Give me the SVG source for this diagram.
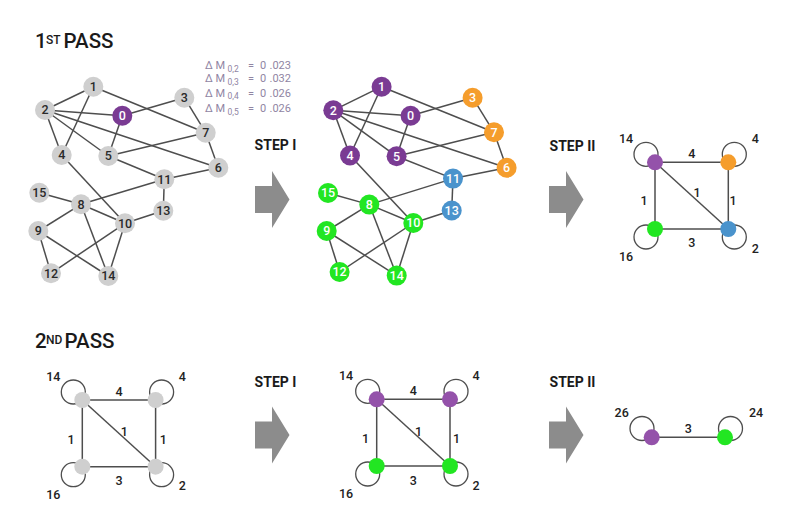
<svg xmlns="http://www.w3.org/2000/svg" width="811" height="507" viewBox="0 0 811 507">
<style>
.e{stroke:#4e4e4e;stroke-width:1.5;fill:none}
.lp{stroke:#4e4e4e;stroke-width:1.3;fill:none}
.g{fill:#cfcfcf}
.p{fill:#7a3b93}
.pl{fill:#9452aa}
.o{fill:#f59d2c}
.b{fill:#4a93cc}
.gr{fill:#22e622}
.nt{font-family:Roboto,"Liberation Sans",sans-serif;font-size:12.5px;font-weight:500;text-anchor:middle}
.dk{fill:#2a2a2a}
.wt{fill:#ffffff}
.lb{font-family:Roboto,"Liberation Sans",sans-serif;font-size:12.5px;font-weight:500;fill:#222;text-anchor:middle}
.st{font-family:Roboto,"Liberation Sans",sans-serif;font-size:14px;font-weight:700;fill:#1a1a1a;text-anchor:middle}
.tt{font-family:Roboto,"Liberation Sans",sans-serif;font-weight:500;fill:#1a1a1a}
.dm{font-family:Roboto,"Liberation Sans",sans-serif;font-size:11px;fill:#9085a3}
.ar{fill:#8c8c8c}
</style>
<rect width="811" height="507" fill="#ffffff"/>

<!-- titles -->
<g id="title1">
<text class="tt" x="35" y="48.3" font-size="20.5">1</text>
<text class="tt" x="46" y="43.8" font-size="12">ST</text>
<text class="tt" x="63.5" y="48.3" font-size="20.5">PASS</text>
</g>
<g id="title2">
<text class="tt" x="35" y="348.3" font-size="20.5">2</text>
<text class="tt" x="46" y="343.5" font-size="12">ND</text>
<text class="tt" x="64.5" y="348.3" font-size="20.5">PASS</text>
</g>

<!-- delta M annotations -->
<g id="deltas" class="dm">
<text y="69"><tspan x="205">Δ</tspan><tspan x="215.5">M</tspan><tspan x="227.5" dy="2.5" font-size="8.5">0,2</tspan><tspan x="248" dy="-2.5">=</tspan><tspan x="260">0</tspan><tspan x="269.5">.023</tspan></text>
<text y="82"><tspan x="205">Δ</tspan><tspan x="215.5">M</tspan><tspan x="227.5" dy="2.5" font-size="8.5">0,3</tspan><tspan x="248" dy="-2.5">=</tspan><tspan x="260">0</tspan><tspan x="269.5">.032</tspan></text>
<text y="96.5"><tspan x="205">Δ</tspan><tspan x="215.5">M</tspan><tspan x="227.5" dy="2.5" font-size="8.5">0,4</tspan><tspan x="248" dy="-2.5">=</tspan><tspan x="260">0</tspan><tspan x="269.5">.026</tspan></text>
<text y="112"><tspan x="205">Δ</tspan><tspan x="215.5">M</tspan><tspan x="227.5" dy="2.5" font-size="8.5">0,5</tspan><tspan x="248" dy="-2.5">=</tspan><tspan x="260">0</tspan><tspan x="269.5">.026</tspan></text>
</g>

<!-- step labels and arrows -->
<g id="step1-top"><text class="st" x="275.5" y="150">STEP I</text><polygon class="ar" points="255,186 272,186 272,171 289.5,199.5 272,228 272,213 255,213"/></g>
<g id="step2-top"><text class="st" x="572.5" y="151">STEP II</text><polygon class="ar" points="549,186 566,186 566,171 583.5,199.5 566,228 566,213 549,213"/></g>
<g id="step1-bot"><text class="st" x="275.5" y="387">STEP I</text><polygon class="ar" points="255,421.5 272,421.5 272,406.5 289.5,435 272,463.5 272,448.5 255,448.5"/></g>
<g id="step2-bot"><text class="st" x="572.5" y="387">STEP II</text><polygon class="ar" points="549,421.5 566,421.5 566,406.5 583.5,435 566,463.5 566,448.5 549,448.5"/></g>

<!-- connectors -->
<g id="connectors">
<!-- graph A (1st pass, original) -->
<line class="e" x1="93.3" y1="86.7" x2="45" y2="110"/>
<line class="e" x1="93.3" y1="86.7" x2="61.7" y2="155"/>
<line class="e" x1="93.3" y1="86.7" x2="205.7" y2="132.7"/>
<line class="e" x1="45" y1="110" x2="122.3" y2="115.7"/>
<line class="e" x1="45" y1="110" x2="61.7" y2="155"/>
<line class="e" x1="45" y1="110" x2="108.3" y2="156"/>
<line class="e" x1="45" y1="110" x2="218.3" y2="167.7"/>
<line class="e" x1="122.3" y1="115.7" x2="184.3" y2="97.7"/>
<line class="e" x1="122.3" y1="115.7" x2="108.3" y2="156"/>
<line class="e" x1="184.3" y1="97.7" x2="205.7" y2="132.7"/>
<line class="e" x1="108.3" y1="156" x2="205.7" y2="132.7"/>
<line class="e" x1="205.7" y1="132.7" x2="218.3" y2="167.7"/>
<line class="e" x1="108.3" y1="156" x2="164.3" y2="179.3"/>
<line class="e" x1="218.3" y1="167.7" x2="164.3" y2="179.3"/>
<line class="e" x1="164.3" y1="179.3" x2="81" y2="204.3"/>
<line class="e" x1="164.3" y1="179.3" x2="163.3" y2="210.7"/>
<line class="e" x1="61.7" y1="155" x2="125" y2="223.3"/>
<line class="e" x1="39.3" y1="192.7" x2="81" y2="204.3"/>
<line class="e" x1="81" y1="204.3" x2="125" y2="223.3"/>
<line class="e" x1="81" y1="204.3" x2="38.3" y2="231"/>
<line class="e" x1="81" y1="204.3" x2="108.3" y2="276"/>
<line class="e" x1="125" y1="223.3" x2="163.3" y2="210.7"/>
<line class="e" x1="125" y1="223.3" x2="51" y2="273.3"/>
<line class="e" x1="125" y1="223.3" x2="108.3" y2="276"/>
<line class="e" x1="38.3" y1="231" x2="51" y2="273.3"/>
<line class="e" x1="38.3" y1="231" x2="108.3" y2="276"/>
<!-- graph B (1st pass, step I) -->
<line class="e" x1="381.6" y1="86.7" x2="333.3" y2="110.3"/>
<line class="e" x1="381.6" y1="86.7" x2="350" y2="155.5"/>
<line class="e" x1="381.6" y1="86.7" x2="494" y2="132.3"/>
<line class="e" x1="333.3" y1="110.3" x2="410.6" y2="115.7"/>
<line class="e" x1="333.3" y1="110.3" x2="350" y2="155.5"/>
<line class="e" x1="333.3" y1="110.3" x2="396.6" y2="156.3"/>
<line class="e" x1="333.3" y1="110.3" x2="506.6" y2="167.7"/>
<line class="e" x1="410.6" y1="115.7" x2="472.6" y2="97.7"/>
<line class="e" x1="410.6" y1="115.7" x2="396.6" y2="156.3"/>
<line class="e" x1="472.6" y1="97.7" x2="494" y2="132.3"/>
<line class="e" x1="396.6" y1="156.3" x2="494" y2="132.3"/>
<line class="e" x1="494" y1="132.3" x2="506.6" y2="167.7"/>
<line class="e" x1="396.6" y1="156.3" x2="453" y2="178.6"/>
<line class="e" x1="506.6" y1="167.7" x2="453" y2="178.6"/>
<line class="e" x1="453" y1="178.6" x2="369.3" y2="204.6"/>
<line class="e" x1="453" y1="178.6" x2="451.7" y2="210.5"/>
<line class="e" x1="350" y1="155.5" x2="413.3" y2="223"/>
<line class="e" x1="328" y1="193" x2="369.3" y2="204.6"/>
<line class="e" x1="369.3" y1="204.6" x2="413.3" y2="223"/>
<line class="e" x1="369.3" y1="204.6" x2="326.7" y2="231"/>
<line class="e" x1="369.3" y1="204.6" x2="396.7" y2="275.6"/>
<line class="e" x1="413.3" y1="223" x2="451.7" y2="210.5"/>
<line class="e" x1="413.3" y1="223" x2="339.6" y2="272"/>
<line class="e" x1="413.3" y1="223" x2="396.7" y2="275.6"/>
<line class="e" x1="326.7" y1="231" x2="339.6" y2="272"/>
<line class="e" x1="326.7" y1="231" x2="396.7" y2="275.6"/>
<!-- graph C (1st pass, step II) -->
<circle class="lp" cx="646" cy="154.3" r="12"/>
<circle class="lp" cx="734.3" cy="154.3" r="12"/>
<circle class="lp" cx="646" cy="237" r="12"/>
<circle class="lp" cx="734.3" cy="237" r="12"/>
<line class="e" x1="655" y1="162.3" x2="728.3" y2="162.3"/>
<line class="e" x1="655" y1="162.3" x2="655" y2="229"/>
<line class="e" x1="728.3" y1="162.3" x2="728.3" y2="229"/>
<line class="e" x1="655" y1="229" x2="728.3" y2="229"/>
<line class="e" x1="655" y1="162.3" x2="728.3" y2="229"/>
<!-- graph D (2nd pass) -->
<circle class="lp" cx="73.3" cy="392" r="12"/>
<circle class="lp" cx="161.6" cy="392" r="12"/>
<circle class="lp" cx="73.3" cy="474.7" r="12"/>
<circle class="lp" cx="161.6" cy="474.7" r="12"/>
<line class="e" x1="82.3" y1="400" x2="155.6" y2="400"/>
<line class="e" x1="82.3" y1="400" x2="82.3" y2="466.7"/>
<line class="e" x1="155.6" y1="400" x2="155.6" y2="466.7"/>
<line class="e" x1="82.3" y1="466.7" x2="155.6" y2="466.7"/>
<line class="e" x1="82.3" y1="400" x2="155.6" y2="466.7"/>
<!-- graph E (2nd pass, step I) -->
<circle class="lp" cx="367.7" cy="391.3" r="12"/>
<circle class="lp" cx="456" cy="391.3" r="12"/>
<circle class="lp" cx="367.7" cy="474" r="12"/>
<circle class="lp" cx="456" cy="474" r="12"/>
<line class="e" x1="376.7" y1="399.3" x2="450" y2="399.3"/>
<line class="e" x1="376.7" y1="399.3" x2="376.7" y2="466"/>
<line class="e" x1="450" y1="399.3" x2="450" y2="466"/>
<line class="e" x1="376.7" y1="466" x2="450" y2="466"/>
<line class="e" x1="376.7" y1="399.3" x2="450" y2="466"/>
<!-- graph F (2nd pass, step II) -->
<circle class="lp" cx="642" cy="428.5" r="12"/>
<circle class="lp" cx="730.5" cy="428.5" r="12"/>
<line class="e" x1="651.7" y1="437.3" x2="725" y2="437.3"/>
</g>

<!-- graph A nodes -->
<g id="a0"><circle class="p" cx="122.3" cy="115.7" r="10"/><text class="nt wt" x="122.3" y="120.1">0</text></g>
<g id="a1"><circle class="g" cx="93.3" cy="86.7" r="10"/><text class="nt dk" x="93.3" y="91.1">1</text></g>
<g id="a2"><circle class="g" cx="45" cy="110" r="10"/><text class="nt dk" x="45" y="114.4">2</text></g>
<g id="a3"><circle class="g" cx="184.3" cy="97.7" r="10"/><text class="nt dk" x="184.3" y="102.1">3</text></g>
<g id="a4"><circle class="g" cx="61.7" cy="155" r="10"/><text class="nt dk" x="61.7" y="159.4">4</text></g>
<g id="a5"><circle class="g" cx="108.3" cy="156" r="10"/><text class="nt dk" x="108.3" y="160.4">5</text></g>
<g id="a6"><circle class="g" cx="218.3" cy="167.7" r="10"/><text class="nt dk" x="218.3" y="172.1">6</text></g>
<g id="a7"><circle class="g" cx="205.7" cy="132.7" r="10"/><text class="nt dk" x="205.7" y="137.1">7</text></g>
<g id="a8"><circle class="g" cx="81" cy="204.3" r="10"/><text class="nt dk" x="81" y="208.7">8</text></g>
<g id="a9"><circle class="g" cx="38.3" cy="231" r="10"/><text class="nt dk" x="38.3" y="235.4">9</text></g>
<g id="a10"><circle class="g" cx="125" cy="223.3" r="10"/><text class="nt dk" x="125" y="227.7">10</text></g>
<g id="a11"><circle class="g" cx="164.3" cy="179.3" r="10"/><text class="nt dk" x="164.3" y="183.7">11</text></g>
<g id="a12"><circle class="g" cx="51" cy="273.3" r="10"/><text class="nt dk" x="51" y="277.7">12</text></g>
<g id="a13"><circle class="g" cx="163.3" cy="210.7" r="10"/><text class="nt dk" x="163.3" y="215.1">13</text></g>
<g id="a14"><circle class="g" cx="108.3" cy="276" r="10"/><text class="nt dk" x="108.3" y="280.4">14</text></g>
<g id="a15"><circle class="g" cx="39.3" cy="192.7" r="10"/><text class="nt dk" x="39.3" y="197.1">15</text></g>

<!-- graph B nodes -->
<g id="b0"><circle class="p" cx="410.6" cy="115.7" r="10"/><text class="nt wt" x="410.6" y="120.1">0</text></g>
<g id="b1"><circle class="p" cx="381.6" cy="86.7" r="10"/><text class="nt wt" x="381.6" y="91.1">1</text></g>
<g id="b2"><circle class="p" cx="333.3" cy="110.3" r="10"/><text class="nt wt" x="333.3" y="114.7">2</text></g>
<g id="b3"><circle class="o" cx="472.6" cy="97.7" r="10"/><text class="nt wt" x="472.6" y="102.1">3</text></g>
<g id="b4"><circle class="p" cx="350" cy="155.5" r="10"/><text class="nt wt" x="350" y="159.9">4</text></g>
<g id="b5"><circle class="p" cx="396.6" cy="156.3" r="10"/><text class="nt wt" x="396.6" y="160.7">5</text></g>
<g id="b6"><circle class="o" cx="506.6" cy="167.7" r="10"/><text class="nt wt" x="506.6" y="172.1">6</text></g>
<g id="b7"><circle class="o" cx="494" cy="132.3" r="10"/><text class="nt wt" x="494" y="136.7">7</text></g>
<g id="b8"><circle class="gr" cx="369.3" cy="204.6" r="10"/><text class="nt wt" x="369.3" y="209">8</text></g>
<g id="b9"><circle class="gr" cx="326.7" cy="231" r="10"/><text class="nt wt" x="326.7" y="235.4">9</text></g>
<g id="b10"><circle class="gr" cx="413.3" cy="223" r="10"/><text class="nt wt" x="413.3" y="227.4">10</text></g>
<g id="b11"><circle class="b" cx="453" cy="178.6" r="10"/><text class="nt wt" x="453" y="183">11</text></g>
<g id="b12"><circle class="gr" cx="339.6" cy="272" r="10"/><text class="nt wt" x="339.6" y="276.4">12</text></g>
<g id="b13"><circle class="b" cx="451.7" cy="210.5" r="10"/><text class="nt wt" x="451.7" y="214.9">13</text></g>
<g id="b14"><circle class="gr" cx="396.7" cy="275.6" r="10"/><text class="nt wt" x="396.7" y="280">14</text></g>
<g id="b15"><circle class="gr" cx="328" cy="193" r="10"/><text class="nt wt" x="328" y="197.4">15</text></g>

<!-- graph C nodes and labels -->
<g id="c-tl"><circle class="pl" cx="655" cy="162.3" r="8"/><text class="lb" x="626" y="142.8">14</text></g>
<g id="c-tr"><circle class="o" cx="728.3" cy="162.3" r="8"/><text class="lb" x="755.3" y="142.8">4</text></g>
<g id="c-bl"><circle class="gr" cx="655" cy="229" r="8"/><text class="lb" x="626" y="261.3">16</text></g>
<g id="c-br"><circle class="b" cx="728.3" cy="229" r="8"/><text class="lb" x="755.3" y="252.5">2</text></g>
<g id="c-labels">
<text class="lb" x="691.7" y="157.8">4</text>
<text class="lb" x="644" y="205">1</text>
<text class="lb" x="697" y="197">1</text>
<text class="lb" x="733" y="205">1</text>
<text class="lb" x="691.7" y="247.2">3</text>
</g>

<!-- graph D nodes and labels -->
<g id="d-tl"><circle class="g" cx="82.3" cy="400" r="8"/><text class="lb" x="53.3" y="380.5">14</text></g>
<g id="d-tr"><circle class="g" cx="155.6" cy="400" r="8"/><text class="lb" x="182.3" y="380.5">4</text></g>
<g id="d-bl"><circle class="g" cx="82.3" cy="466.7" r="8"/><text class="lb" x="53.3" y="498.5">16</text></g>
<g id="d-br"><circle class="g" cx="155.6" cy="466.7" r="8"/><text class="lb" x="182.3" y="490.3">2</text></g>
<g id="d-labels">
<text class="lb" x="119" y="396">4</text>
<text class="lb" x="71" y="443.8">1</text>
<text class="lb" x="124.3" y="436">1</text>
<text class="lb" x="163.3" y="443.8">1</text>
<text class="lb" x="119" y="485.2">3</text>
</g>

<!-- graph E nodes and labels -->
<g id="e-tl"><circle class="pl" cx="376.7" cy="399.3" r="8"/><text class="lb" x="346" y="379.5">14</text></g>
<g id="e-tr"><circle class="pl" cx="450" cy="399.3" r="8"/><text class="lb" x="476" y="379.5">4</text></g>
<g id="e-bl"><circle class="gr" cx="376.7" cy="466" r="8"/><text class="lb" x="346" y="497.8">16</text></g>
<g id="e-br"><circle class="gr" cx="450" cy="466" r="8"/><text class="lb" x="476" y="489.5">2</text></g>
<g id="e-labels">
<text class="lb" x="413.3" y="395.3">4</text>
<text class="lb" x="365.5" y="443">1</text>
<text class="lb" x="418.5" y="435.5">1</text>
<text class="lb" x="456.5" y="443">1</text>
<text class="lb" x="413.3" y="484.5">3</text>
</g>

<!-- graph F nodes and labels -->
<g id="f-p"><circle class="pl" cx="651.7" cy="437.3" r="8"/><text class="lb" x="621.7" y="417.2">26</text></g>
<g id="f-g"><circle class="gr" cx="725" cy="437.3" r="8"/><text class="lb" x="756" y="417.2">24</text></g>
<text class="lb" x="688.3" y="432.8">3</text>
</svg>
